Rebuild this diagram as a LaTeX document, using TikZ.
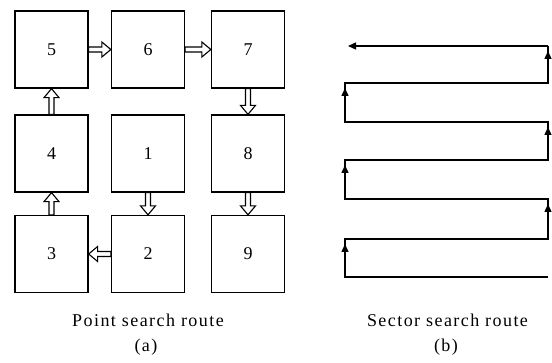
\documentclass[tikz,border=0pt]{standalone}
\usepackage{fontspec}
\setmainfont{Liberation Serif}
\usetikzlibrary{calc,arrows.meta}

\tikzset{
  cell/.style={draw, line width=1.3pt, minimum width=73pt, minimum height=77pt,
    inner sep=0pt, font=\fontsize{18}{18}\selectfont},
  % hollow block arrow drawn between two anchors
  blockarrow/.style={line width=1.1pt, line join=miter, to path={
    let \p1=(\tikztostart), \p2=(\tikztotarget),
        \p3=($(\p2)!9pt!(\p1)$) in
    ($(\p1)!2.5pt!90:(\p2)$) -- ($(\p3)!2.5pt!-90:(\p1)$) -- ($(\p3)!7.5pt!-90:(\p1)$)
    -- (\p2) -- ($(\p3)!7.5pt!90:(\p1)$) -- ($(\p3)!2.5pt!90:(\p1)$)
    -- ($(\p1)!2.5pt!-90:(\p2)$) -- cycle}},
  route/.style={line width=1.4pt, line join=miter},
  uptip/.style={line width=1.4pt, -{Triangle[length=8pt,width=7pt]}},
  caption/.style={font=\fontsize{18}{18}\selectfont\addfontfeature{LetterSpace=8}}
}

\begin{document}
\begin{tikzpicture}[x=1pt,y=-1pt]
  \useasboundingbox (0,0) rectangle (552,363);

  % grid of search points
  \node[cell] (n5) at (51.5,49.5) {5};
  \node[cell] (n6) at (148,49.5) {6};
  \node[cell] (n7) at (248,49.5) {7};
  \node[cell] (n4) at (51.5,153.5) {4};
  \node[cell] (n1) at (148,153.5) {1};
  \node[cell] (n8) at (248,153.5) {8};
  \node[cell] (n3) at (51.5,254) {3};
  \node[cell] (n2) at (148,254) {2};
  \node[cell] (n9) at (248,254) {9};

  % spiral order 1 -> 9
  \draw[blockarrow] (n1.south) to (n2.north);
  \draw[blockarrow] (n2.west) to (n3.east);
  \draw[blockarrow] (n3.north) to (n4.south);
  \draw[blockarrow] (n4.north) to (n5.south);
  \draw[blockarrow] (n5.east) to (n6.west);
  \draw[blockarrow] (n6.east) to (n7.west);
  \draw[blockarrow] (n7.south) to (n8.north);
  \draw[blockarrow] (n8.south) to (n9.north);

  % sector sweep turning points
  \foreach \i/\y in {0/277,1/239,2/199,3/160,4/122,5/83,6/46}{
    \coordinate (l\i) at (345,\y);
    \coordinate (r\i) at (548,\y);
  }
  \coordinate (finish) at (348,46);

  \draw[route] (r0) -- (l0) -- (l1) -- (r1) -- (r2) -- (l2) -- (l3)
    -- (r3) -- (r4) -- (l4) -- (l5) -- (r5) -- (r6);
  \draw[uptip] (r6) -- (finish);
  \draw[uptip] (l0) -- ($(l1)+(0,5)$);
  \draw[uptip] (r1) -- ($(r2)+(0,5)$);
  \draw[uptip] (l2) -- ($(l3)+(0,5)$);
  \draw[uptip] (r3) -- ($(r4)+(0,5)$);
  \draw[uptip] (l4) -- ($(l5)+(0,5)$);
  \draw[uptip] (r5) -- ($(r6)+(0,5)$);

  % captions
  \node[caption, anchor=base] (capa) at (148,327) {Point search route};
  \node[caption] (laba) at (146,347.5) {(a)};
  \node[caption, anchor=base] (capb) at (447.5,327) {Sector search route};
  \node[caption] (labb) at (446,347.5) {(b)};
\end{tikzpicture}
\end{document}
